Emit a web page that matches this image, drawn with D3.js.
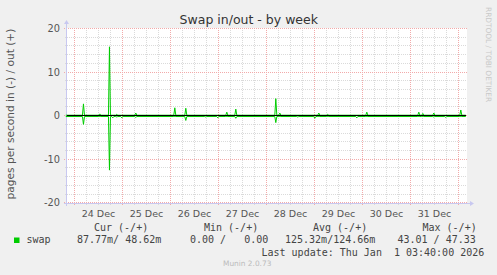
<!DOCTYPE html>
<html><head><meta charset="utf-8">
<script src="https://cdn.jsdelivr.net/npm/d3@7"></script>
<style>
html,body{margin:0;padding:0;background:#f0f0f0;}
svg{display:block;}
</style></head>
<body>
<svg id="chart" width="497" height="275"></svg>
<script>
// ---- data ----
const startTime = "2025-12-23 19:40";
const endTime = "2026-01-01 03:40";
const spikeTimes = ["2025-12-24 04:30","2025-12-24 12:40","2025-12-24 17:30","2025-12-24 19:10","2025-12-24 21:10","2025-12-24 23:40","2025-12-25 06:40","2025-12-26 02:10","2025-12-26 07:40","2025-12-26 17:40","2025-12-26 23:40","2025-12-27 04:10","2025-12-27 08:40","2025-12-28 04:40","2025-12-28 06:40","2025-12-28 15:40","2025-12-29 00:10","2025-12-29 02:10","2025-12-29 06:40","2025-12-29 21:10","2025-12-30 02:10","2025-12-31 04:10","2025-12-31 06:10","2025-12-31 11:40","2025-12-31 17:40","2026-01-01 01:10"];
const swapOut = [2.7,0.4,15.8,0,0.3,0,0.6,1.8,1.7,0,0,0.8,1.5,3.9,0.6,0,0,0.6,0.3,0,0.8,0.8,0.5,0.6,0,1.3];
const swapIn  = [2.0,0,12.5,0.5,0.3,0.5,0.4,0,1.1,0.3,0.5,0,0.6,1.6,0,0.3,0.6,0,0,0.5,0.2,0,0,0.3,0.4,0];
const baselineOut = 0.1;
const baselineIn = 0.2;
const yTicks = [20,10,0,-10,-20];
const dayTicks = ["2025-12-24","2025-12-25","2025-12-26","2025-12-27","2025-12-28","2025-12-29","2025-12-30","2025-12-31","2026-01-01"];
const dayLabels = ["24 Dec","25 Dec","26 Dec","27 Dec","28 Dec","29 Dec","30 Dec","31 Dec"];
const legendHeaders = ["Cur (-/+)","Min (-/+)","Avg (-/+)","Max (-/+)"];
const legendValues = ["87.77m/ 48.62m","0.00 /   0.00","125.32m/124.66m","43.01 / 47.33"];
const lastUpdate = "Last update: Thu Jan  1 03:40:00 2026";

// ---- setup ----
const parse = d3.timeParse("%Y-%m-%d %H:%M");
const parseDay = d3.timeParse("%Y-%m-%d");
const t0 = parse(startTime), t1 = parse(endTime);
const svg = d3.select("#chart");
const L = 66, R = 466, T = 28, B = 203;
const x = d3.scaleTime().domain([t0, t1]).range([65.8, 465.8]);
const y = d3.scaleLinear().domain([-20, 20]).range([202.8, 28.5]);
const px = v => Math.floor(v) + 0.5;

svg.append("rect").attr("width",497).attr("height",275).attr("fill","#f0f0f0");
svg.append("rect").attr("x",L+1).attr("y",T).attr("width",R-L).attr("height",B-T+1).attr("fill","#ffffff");

// grid minor
const g = svg.append("g");
const sixH = d3.timeHour.every(6).range(t0, t1);
g.selectAll("line.vmin").data(sixH).join("line")
  .attr("x1",d=>px(x(d))).attr("x2",d=>px(x(d))).attr("y1",T).attr("y2",B+2.5)
  .attr("stroke","#dadada").attr("stroke-dasharray","1,1");
const minorY = d3.range(-18, 20, 2).filter(v => v % 10 !== 0);
g.selectAll("line.hmin").data(minorY).join("line")
  .attr("x1",L-1).attr("x2",R+1).attr("y1",d=>px(y(d))).attr("y2",d=>px(y(d)))
  .attr("stroke","#dadada").attr("stroke-dasharray","1,1");
// grid major
g.selectAll("line.vmaj").data(dayTicks.map(parseDay)).join("line")
  .attr("x1",d=>px(x(d))).attr("x2",d=>px(x(d))).attr("y1",T).attr("y2",B+3)
  .attr("stroke","#f2aaaa").attr("stroke-dasharray","1,1");
g.selectAll("line.hmaj").data(yTicks).join("line")
  .attr("x1",L-2).attr("x2",R+1).attr("y1",d=>px(y(d))).attr("y2",d=>px(y(d)))
  .attr("stroke","#f2aaaa").attr("stroke-dasharray","1,1");

// axes
const axisColor = "#c8c8f0";
svg.append("line").attr("x1",L+0.5).attr("x2",L+0.5).attr("y1",B+3).attr("y2",T-4).attr("stroke",axisColor);
svg.append("path").attr("d",`M${L-2},${T-4} L${L+0.5},${T-8} L${L+3},${T-4} Z`).attr("fill",axisColor);
svg.append("line").attr("x1",L-2).attr("x2",R+4).attr("y1",B+0.5).attr("y2",B+0.5).attr("stroke",axisColor);
svg.append("path").attr("d",`M${R+4},${B-2} L${R+8},${B+0.5} L${R+4},${B+3} Z`).attr("fill",axisColor);

// y tick labels
svg.selectAll("text.yt").data(yTicks).join("text")
  .attr("x",60).attr("y",d=>y(d)+3.6).attr("text-anchor","end")
  .attr("font-family","DejaVu Sans").attr("font-size",9.8).attr("fill","#555")
  .text(d=>d);
// x labels at noon
svg.selectAll("text.xt").data(dayLabels).join("text")
  .attr("x",(d,i)=>x(d3.timeHour.offset(parseDay(dayTicks[i]),12)))
  .attr("y",216.5).attr("text-anchor","middle")
  .attr("font-family","DejaVu Sans").attr("font-size",9.5).attr("fill","#555")
  .text(d=>d);

// build series
function series(vals, sign, base){
  const pts = [[t0, sign*base]];
  spikeTimes.forEach((s,i)=>{
    const t = parse(s);
    const v = vals[i] > 0 ? vals[i] : base;
    pts.push([d3.timeMinute.offset(t,-30), sign*base]);
    pts.push([t, sign*v]);
    pts.push([d3.timeMinute.offset(t,30), sign*base]);
  });
  pts.push([t1, sign*base]);
  return pts;
}
const line = d3.line().x(d=>x(d[0])).y(d=>y(d[1]));
svg.append("path").attr("d",line(series(swapIn,-1,baselineIn))).attr("fill","none").attr("stroke","#00cc00").attr("stroke-width",1);
svg.append("path").attr("d",line(series(swapOut,1,baselineOut))).attr("fill","none").attr("stroke","#00cc00").attr("stroke-width",1);

// zero line
svg.append("line").attr("x1",L+1).attr("x2",R).attr("y1",px(y(0))).attr("y2",px(y(0))).attr("stroke","#000");

// title
svg.append("text").attr("x",248.8).attr("y",24).attr("text-anchor","middle")
  .attr("font-family","DejaVu Sans").attr("font-size",12.5).attr("fill","#333")
  .text("Swap in/out - by week");
// y-axis title
svg.append("text").attr("transform","translate(13.5,114) rotate(-90)").attr("text-anchor","middle")
  .attr("font-family","DejaVu Sans").attr("font-size",10.6).attr("fill","#555")
  .text("pages per second in (-) / out (+)");
// rrdtool credit
svg.append("text").attr("transform","translate(485.5,7) rotate(90)")
  .attr("font-family","DejaVu Sans").attr("font-size",7.4).attr("fill","#c8c8c8")
  .text("RRDTOOL / TOBI OETIKER");

// legend
const mono = {"font-family":"DejaVu Sans Mono","font-size":10,"fill":"#444"};
function mtext(s, xx, yy){
  const t = svg.append("text").attr("x",xx).attr("y",yy).attr("xml:space","preserve").style("white-space","pre").text(s);
  Object.entries(mono).forEach(([k,v])=>t.attr(k,v));
  return t;
}
const headerX = [94, 204, 313, 422.5];
legendHeaders.forEach((h,i)=>mtext(h, headerX[i], 230.5));
svg.append("rect").attr("x",14).attr("y",237.5).attr("width",5.5).attr("height",5.5).attr("fill","#00cc00");
mtext("swap", 26.5, 243);
const valX = [77, 190, 285, 397.5];
legendValues.forEach((v,i)=>mtext(v, valX[i], 243));
mtext(lastUpdate, 261.5, 256);
svg.append("text").attr("x",223).attr("y",266.3).attr("font-family","DejaVu Sans").attr("font-size",7.4).attr("fill","#bbb").text("Munin 2.0.73");
</script>
</body></html>
